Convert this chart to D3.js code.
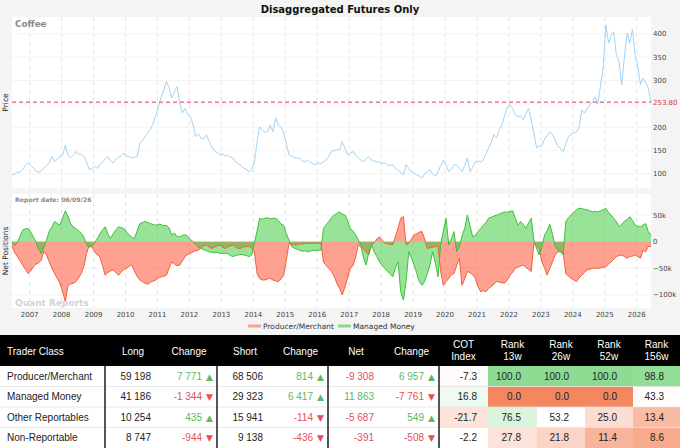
<!DOCTYPE html>
<html>
<head>
<meta charset="utf-8">
<script src="https://cdn.jsdelivr.net/npm/d3@7"></script>
<style>
  html, body { margin: 0; padding: 0; background: #f4f4f4; }
  svg { display: block; }
</style>
</head>
<body>
<svg id="chart" width="680" height="448"></svg>
<script>
// Monthly readings, first report mid-June 2006, last 06/09/26
const START = '2006-06-13';
const REPORT_DATE = '06/09/26';

// front-month price (c/lb)
const price = [
  98, 100, 104, 103, 110, 118, 124,
  118, 112, 106, 104, 106, 112, 118, 124, 137, 126, 132, 137,
  140, 162, 140, 135, 140, 148, 143, 142, 137, 125, 109, 112,
  116, 112, 120, 126, 132, 137, 128, 124, 132, 135, 140, 145,
  138, 137, 134, 136, 137, 166, 172, 180, 188, 195, 209, 225,
  245, 265, 278, 298, 285, 263, 275, 287, 250, 231, 240, 228,
  222, 205, 180, 186, 176, 175, 184, 170, 158, 150, 145, 141,
  144, 138, 140, 136, 134, 126, 122, 118, 112, 110, 104, 110,
  124, 170, 201, 195, 190, 190, 205, 190, 220, 205, 200, 188,
  165, 141, 138, 136, 134, 134, 128, 126, 130, 125, 122, 120,
  124, 122, 126, 130, 138, 148, 150, 152, 152, 169, 155, 141,
  145, 148, 140, 135, 130, 126, 132, 137, 130, 128, 126, 126,
  122, 124, 120, 118, 120, 112, 108, 104, 98, 120, 112, 104,
  102, 98, 95, 91, 100, 104, 109, 100, 95, 105, 118, 130,
  120, 105, 110, 120, 120, 112, 105, 118, 134, 105, 115, 126,
  128, 125, 130, 142, 156, 168, 184, 178, 195, 205, 225, 244,
  248, 240, 227, 222, 225, 216, 228, 241, 215, 188, 156, 160,
  162, 175, 182, 190, 185, 173, 160, 155, 148, 165, 180, 185,
  188, 190, 200, 237, 230, 240, 248, 255, 265, 250, 290, 327,
  419, 380, 395, 404, 355, 340, 291, 350, 402, 380, 409, 355,
  330, 291, 305, 295, 284, 253.8
];

// net positions, thousands of contracts
const producerNet = [
  -9, -20, -28, -36, -44, -52, -60, -55, -47, -42, -40, -35,
  -18, -25, -38, -50, -60, -69, -78, -94, -113, -82, -80, -78,
  -75, -68, -60, -45, -22, -6, -10, -19, -25, -28, -45, -63,
  -58, -55, -53, -58, -63, -57, -52, -50, -46, -44, -55, -65,
  -72, -75, -78, -80, -76, -74, -72, -68, -66, -65, -63, -50,
  -38, -42, -45, -44, -36, -28, -24, -22, -19, -17, -16, -12,
  -8, -6, -10, -13, -10, -8, -6, -10, -13, -10, -8, -6,
  -10, -13, -12, -10, -9, -9, -12, -19, -60, -69, -72, -72,
  -70, -69, -72, -74, -75, -70, -63, -35, -3, -5, -6, -6,
  -4, -5, -3, -4, -3, -3, -3, -3, -3, -38, -45, -50,
  -56, -65, -78, -88, -100, -85, -69, -50, -45, -31, -6, -10,
  -13, -20, -25, -6, -2, 5, 9, 3, -3, -4, -5, -6,
  10, 25, 44, 47, -6, -3, 5, 13, 15, 18, 19, 5,
  -13, -11, -10, -9, -9, -56, -82, -75, -69, -62, -60, -45,
  -31, -82, -70, -56, -58, -62, -69, -85, -94, -92, -94, -88,
  -84, -80, -75, -76, -77, -78, -72, -63, -58, -50, -48, -46,
  -44, -48, -52, -56, -3, -8, -13, -38, -50, -63, -50, -38,
  -25, -19, -19, -19, -60, -65, -69, -72, -75, -68, -63, -58,
  -53, -52, -50, -50, -50, -49, -48, -47, -42, -38, -33, -28,
  -26, -25, -28, -31, -28, -27, -25, -28, -31, -16, -19, -9,
  -9.3
];
const managedNet = [
  -3, -8, -2, 10, 22, 24, 25, 18, 9, 0, -15, -22,
  -10, 3, 20, 28, 38, 34, 31, 45, 58, 48, 34, 28,
  25, 20, 16, 8, -6, -10, -9, -2, 6, 15, 22, 28,
  15, 6, 15, 22, 28, 26, 25, 18, 13, 8, 6, 20,
  34, 36, 38, 36, 34, 32, 31, 33, 32, 30, 31, 26,
  13, 16, 10, 9, 12, 13, 10, 4, 0, -6, -10, -13,
  -15, -17, -19, -20, -21, -20, -22, -22, -22, -22, -26, -28,
  -26, -25, -24, -25, -26, -28, -25, -3, 20, 44, 42, 44,
  45, 43, 44, 44, 40, 33, 31, 15, 3, -9, -12, -14,
  -16, -18, -17, -19, -18, -16, -17, -16, -16, 25, 32, 38,
  45, 50, 53, 56, 52, 50, 40, 25, 20, 13, 4, -6,
  -30, -44, -20, -6, -19, -28, -38, -45, -50, -56, -60, -66,
  -50, -38, -94, -110, -75, -19, -30, -44, -60, -75, -82, -75,
  -60, -44, -19, -40, -66, -6, 20, 44, -6, 5, 19, -19,
  -10, 10, 25, 50, 30, 9, 12, 19, 25, 31, 36, 44,
  46, 48, 50, 52, 54, 56, 55, 57, 58, 45, 31, 38,
  32, 25, 35, 44, 3, -13, -25, -10, 13, 20, 33, 15,
  -9, -15, -19, -25, 38, 45, 50, 55, 60, 63, 62, 61,
  60, 58, 56, 57, 56, 58, 60, 63, 55, 50, 44, 38,
  28, 33, 38, 42, 47, 40, 31, 29, 28, 31, 34, 19,
  12
];

const years = d3.range(2007, 2027);
const priceTicks = [100, 150, 200, 250, 300, 350, 400];
const netTicks = [50, 0, -50, -100];
const lastPrice = 253.80;

// table
const classes = ['Producer/Merchant', 'Managed Money', 'Other Reportables', 'Non-Reportable'];
const longs = [59198, 41186, 10254, 8747];
const longChg = [7771, -1344, 435, -944];
const shorts = [68506, 29323, 15941, 9138];
const shortChg = [814, 6417, -114, -436];
const nets = [-9308, 11863, -5687, -391];
const netChg = [6957, -7761, 549, -508];
const cotIndex = [-7.3, 16.8, -21.7, -2.2];
const rank13 = [100.0, 0.0, 76.5, 27.8];
const rank26 = [100.0, 0.0, 53.2, 21.8];
const rank52 = [100.0, 0.0, 25.0, 11.4];
const rank156 = [98.8, 43.3, 13.4, 8.6];

const AX = 'DejaVu Sans, Verdana, sans-serif';
const TB = 'Liberation Sans, Arial, DejaVu Sans, sans-serif';

const svg = d3.select('#chart');
const t0 = d3.isoParse(START);
const dates = price.map((_, i) => d3.timeMonth.offset(t0, i));

const L = 12, R = 651;
const PT = 17, PB = 188;   // price panel
const NT = 194, NB = 308;  // net panel

const x = d3.scaleTime().domain([dates[0], dates[dates.length - 1]]).range([L, R]);
const yP = d3.scaleLinear().domain([70, 436]).range([PB, PT]);
const yN = d3.scaleLinear().domain([-124.6, 89.6]).range([NB, NT]);

svg.append('rect').attr('width', 680).attr('height', 448).attr('fill', '#f4f4f4');

svg.append('text').attr('x', 340).attr('y', 13).attr('text-anchor', 'middle')
  .attr('font-family', AX).attr('font-weight', 'bold').attr('font-size', 10)
  .attr('fill', '#111').text('Disaggregated Futures Only');

// panels
[[PT, PB], [NT, NB]].forEach(([t, b]) => {
  svg.append('rect').attr('x', L).attr('y', t).attr('width', R - L).attr('height', b - t).attr('fill', '#fff');
});

// grids
function vgrid(t, b) {
  svg.append('g').selectAll('line').data(years).join('line')
    .attr('x1', d => x(new Date(d, 0, 1))).attr('x2', d => x(new Date(d, 0, 1)))
    .attr('y1', t).attr('y2', b)
    .attr('stroke', '#dcdcdc').attr('stroke-width', 0.8).attr('stroke-dasharray', '4,4');
}
vgrid(PT, PB); vgrid(NT, NB);

svg.append('g').selectAll('line').data(priceTicks).join('line')
  .attr('x1', L).attr('x2', R).attr('y1', d => yP(d)).attr('y2', d => yP(d))
  .attr('stroke', '#f0f0f0').attr('stroke-width', 0.8);
svg.append('g').selectAll('line').data(netTicks).join('line')
  .attr('x1', L).attr('x2', R).attr('y1', d => yN(d)).attr('y2', d => yN(d))
  .attr('stroke', '#f0f0f0').attr('stroke-width', 0.8);

// price line
svg.append('path').datum(price)
  .attr('d', d3.line().x((d, i) => x(dates[i])).y(d => yP(d)))
  .attr('fill', 'none').attr('stroke', '#a2d3f6').attr('stroke-width', 1);

svg.append('line').attr('x1', L).attr('x2', R).attr('y1', yP(lastPrice)).attr('y2', yP(lastPrice))
  .attr('stroke', '#e0355a').attr('stroke-width', 1).attr('stroke-dasharray', '4,3');

// price axis
const pAxis = svg.append('g').attr('font-family', AX).attr('font-size', 7).attr('fill', '#444');
pAxis.selectAll('text').data(priceTicks.filter(d => d !== 250)).join('text')
  .attr('x', 653).attr('y', d => yP(d) + 2.5).text(d => d);
svg.append('text').attr('x', 653).attr('y', yP(lastPrice) + 2.5)
  .attr('font-family', AX).attr('font-size', 7).attr('fill', '#d8304f').text(lastPrice.toFixed(2));

svg.append('text').attr('x', 15).attr('y', 27).attr('font-family', AX).attr('font-weight', 'bold')
  .attr('font-size', 8.8).attr('fill', '#8a8a8a').text('Coffee');

svg.append('text').attr('transform', `translate(8,${(PT + PB) / 2}) rotate(-90)`)
  .attr('text-anchor', 'middle').attr('font-family', AX).attr('font-size', 7.5).attr('fill', '#222').text('Price');

// net areas
const area = d3.area().x((d, i) => x(dates[i])).y0(yN(0)).y1(d => yN(d));
const line = d3.line().x((d, i) => x(dates[i])).y(d => yN(d));

svg.append('path').datum(producerNet).attr('d', area).attr('fill', 'rgba(255,99,71,0.6)');
svg.append('path').datum(managedNet).attr('d', area).attr('fill', 'rgba(50,200,50,0.5)');
svg.append('path').datum(producerNet).attr('d', line).attr('fill', 'none').attr('stroke', '#f0603c').attr('stroke-width', 1);
svg.append('path').datum(managedNet).attr('d', line).attr('fill', 'none').attr('stroke', '#3cc03c').attr('stroke-width', 1);

const kFmt = d => d === 0 ? '0' : (d < 0 ? '\u2212' + Math.abs(d) : d) + 'k';
svg.append('g').attr('font-family', AX).attr('font-size', 7).attr('fill', '#444')
  .selectAll('text').data(netTicks).join('text')
  .attr('x', 653).attr('y', d => yN(d) + 2.5).text(kFmt);

svg.append('text').attr('x', 15).attr('y', 202).attr('font-family', AX).attr('font-weight', 'bold')
  .attr('font-size', 6.2).attr('fill', '#8a8a8a').text('Report date: ' + REPORT_DATE);

svg.append('text').attr('x', 15).attr('y', 306).attr('font-family', AX).attr('font-weight', 'bold')
  .attr('font-size', 9).attr('fill', '#cfcfcf').attr('opacity', 0.9).text('Quant Reports');

svg.append('text').attr('transform', `translate(8,${(NT + NB) / 2}) rotate(-90)`)
  .attr('text-anchor', 'middle').attr('font-family', AX).attr('font-size', 7.5).attr('fill', '#222').text('Net Positions');

// x axis
svg.append('g').attr('font-family', AX).attr('font-size', 7).attr('fill', '#444')
  .selectAll('text').data(years).join('text')
  .attr('x', d => x(new Date(d, 0, 1))).attr('y', 317).attr('text-anchor', 'middle').text(d => d);

// legend
const legend = [['Producer/Merchant', '#f9a48e', 248], ['Managed Money', '#86dc86', 338]];
const lg = svg.append('g').attr('font-family', AX).attr('font-size', 7.5).attr('fill', '#333');
legend.forEach(([name, col, lx]) => {
  lg.append('line').attr('x1', lx).attr('x2', lx + 13).attr('y1', 326).attr('y2', 326)
    .attr('stroke', col).attr('stroke-width', 3);
  lg.append('text').attr('x', lx + 15).attr('y', 329).text(name);
});

// ---- table ----
const loc = d3.formatLocale({ decimal: '.', thousands: ' ', grouping: [3], currency: ['', ''], minus: '-' });
const fInt = loc.format(',');
const fDec = loc.format('.1f');

const TOP = 335, HEAD = 31, ROW = 20.5;
const cols = [0, 105, 161, 217, 273, 328, 384, 439, 488, 537, 585, 633, 680];
const heads = [['Trader Class'], ['Long'], ['Change'], ['Short'], ['Change'], ['Net'], ['Change'],
  ['COT', 'Index'], ['Rank', '13w'], ['Rank', '26w'], ['Rank', '52w'], ['Rank', '156w']];

svg.append('rect').attr('x', 0).attr('y', TOP).attr('width', 680).attr('height', HEAD).attr('fill', '#000');
svg.append('rect').attr('x', 0).attr('y', TOP + HEAD).attr('width', 680).attr('height', 448 - TOP - HEAD).attr('fill', '#fff');

const hg = svg.append('g').attr('font-family', TB).attr('font-size', 10).attr('fill', '#fff');
heads.forEach((h, i) => {
  const cx = i === 0 ? 7 : (cols[i] + cols[i + 1]) / 2;
  const t = hg.append('text').attr('x', cx).attr('text-anchor', i === 0 ? 'start' : 'middle');
  if (h.length === 1) t.attr('y', TOP + HEAD / 2 + 4).text(h[0]);
  else h.forEach((s, j) => t.append('tspan').attr('x', cx).attr('y', TOP + 13 + j * 12).text(s));
});

const GREEN = '#5cb962', RED = '#e4505a';
function heat(v) {
  const t = Math.pow(Math.min(1, Math.abs(v - 50) / 50), 1.8);
  return d3.interpolateRgb('#ffffff', v >= 50 ? '#8ddb93' : '#f4875f')(t);
}

const bg = svg.append('g').attr('font-family', TB).attr('font-size', 10);
classes.forEach((name, r) => {
  const y0 = TOP + HEAD + r * ROW, yc = y0 + ROW / 2 + 3.5;
  const heatCells = [50 + cotIndex[r], rank13[r], rank26[r], rank52[r], rank156[r]];
  const heatVals = [cotIndex[r], rank13[r], rank26[r], rank52[r], rank156[r]];
  heatCells.forEach((v, k) => {
    const c = 7 + k;
    bg.append('rect').attr('x', cols[c]).attr('y', y0).attr('width', cols[c + 1] - cols[c]).attr('height', ROW)
      .attr('fill', heat(v));
  });
  if (r > 0) bg.append('line').attr('x1', 0).attr('x2', 680).attr('y1', y0).attr('y2', y0)
    .attr('stroke', '#e2e2e2').attr('stroke-width', 0.8);

  bg.append('text').attr('x', 7).attr('y', yc).attr('fill', '#222').text(name);
  const plain = (c, v, col) => bg.append('text').attr('x', cols[c + 1] - 10).attr('y', yc)
    .attr('text-anchor', 'end').attr('fill', col || '#222').text(fInt(v));
  const change = (c, v) => {
    const col = v >= 0 ? GREEN : RED;
    bg.append('text').attr('x', cols[c + 1] - 15).attr('y', yc).attr('text-anchor', 'end').attr('fill', col).text(fInt(v));
    bg.append('text').attr('x', cols[c + 1] - 4).attr('y', yc).attr('text-anchor', 'end').attr('fill', col)
      .attr('font-family', AX).attr('font-size', 9).text(v >= 0 ? '\u25B2' : '\u25BC');
  };
  plain(1, longs[r]); change(2, longChg[r]);
  plain(3, shorts[r]); change(4, shortChg[r]);
  plain(5, nets[r], nets[r] >= 0 ? GREEN : RED); change(6, netChg[r]);
  heatVals.forEach((v, k) => {
    const c = 7 + k;
    bg.append('text').attr('x', cols[c + 1] - (k === 0 ? 11 : 16)).attr('y', yc)
      .attr('text-anchor', 'end').attr('fill', '#222').text(fDec(v));
  });
});

svg.append('g').selectAll('line').data([105, 217, 328, 439]).join('line')
  .attr('x1', d => d).attr('x2', d => d).attr('y1', TOP + HEAD).attr('y2', 448)
  .attr('stroke', '#555').attr('stroke-width', 2);
</script>
</body>
</html>
